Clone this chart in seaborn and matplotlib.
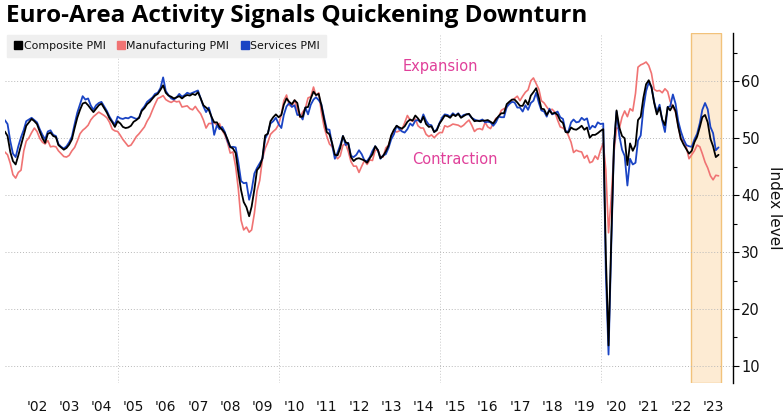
import matplotlib
matplotlib.use("Agg")
import matplotlib.pyplot as plt
from matplotlib.lines import Line2D
from matplotlib import font_manager
import seaborn as sns
import pandas as pd
import numpy as np

# ---------------- data (monthly, Jul 2001 - Sep 2023) ----------------
start_month = "2001-07-01"

composite = [
    51.2, 50.4, 47.6, 46.0, 45.4, 47.0,
    48.8, 50.6, 52.2, 52.8, 53.4, 53.0, 52.5, 51.2, 50.0, 49.2, 50.8, 51.0,
    50.4, 50.2, 48.8, 48.4, 48.0, 48.3, 48.9, 49.8, 51.8, 53.6, 55.0, 56.1,
    56.3, 55.8, 55.2, 54.6, 55.2, 55.8, 56.1, 55.3, 54.5, 53.5, 52.8, 52.0,
    53.0, 52.6, 52.0, 51.8, 51.9, 52.2, 52.9, 53.2, 53.6, 54.8, 55.3, 56.0,
    56.4, 57.0, 57.5, 57.8, 58.5, 59.3, 58.0, 57.5, 57.3, 57.0, 57.2, 57.4,
    57.0, 57.4, 57.6, 57.5, 57.8, 57.6, 58.1, 57.0, 55.8, 55.4, 55.0, 53.8,
    52.8, 52.8, 52.0, 51.5, 50.9, 49.8, 48.5, 48.2, 47.4, 44.0, 40.9, 38.8,
    37.9, 36.3, 38.0, 41.0, 44.4, 45.0, 46.5, 50.5, 50.8, 53.0, 53.7, 54.2,
    53.7, 54.1, 55.9, 57.0, 56.4, 56.0, 56.7, 56.2, 53.8, 53.8, 55.4, 55.5,
    57.0, 58.2, 57.6, 57.8, 55.8, 53.3, 51.1, 50.7, 49.1, 47.1, 47.0, 48.3,
    50.4, 49.3, 49.1, 46.7, 46.0, 46.4, 46.5, 46.3, 46.1, 45.7, 46.5, 47.2,
    48.6, 47.9, 46.5, 46.9, 47.7, 48.7, 50.5, 51.5, 52.2, 51.9, 51.7, 52.1,
    52.9, 53.3, 53.1, 54.0, 53.5, 52.8, 53.8, 52.5, 52.0, 52.1, 51.1, 51.4,
    52.6, 53.3, 54.0, 53.9, 53.6, 54.2, 53.9, 54.3, 53.6, 53.9, 54.2, 54.3,
    53.6, 53.0, 53.1, 53.0, 53.1, 53.1, 53.2, 52.9, 52.6, 53.3, 53.9, 54.4,
    54.4, 56.0, 56.4, 56.8, 56.8, 56.3, 55.7, 55.7, 56.7, 55.9, 57.5, 58.1,
    58.8, 57.1, 55.2, 55.1, 54.1, 54.9, 54.3, 54.5, 54.1, 53.1, 52.7, 51.1,
    51.0, 51.9, 51.6, 51.5, 51.8, 52.2, 51.5, 51.9, 50.1, 50.6, 50.6, 50.9,
    51.3, 51.6, 29.7, 13.6, 31.9, 48.5, 54.9, 51.9, 50.4, 50.0, 45.3, 49.1,
    47.8, 48.8, 53.2, 53.8, 57.1, 59.5, 60.2, 59.0, 56.2, 54.2, 55.4, 53.3,
    52.3, 55.5, 54.9, 55.8, 54.8, 52.0, 49.9, 48.9, 48.1, 47.3, 47.8, 49.3,
    50.3, 52.0, 53.7, 54.1, 52.8, 49.9, 48.6, 46.7, 47.1,
]

services = [
    53.2, 52.5, 49.5, 47.3, 46.7, 48.6,
    50.2, 51.5, 53.0, 53.3, 53.6, 53.2, 52.8, 51.6, 50.6, 49.8, 51.2, 51.4,
    50.6, 50.4, 49.0, 48.5, 48.2, 48.6, 49.3, 50.3, 52.5, 54.5, 56.0, 57.4,
    56.8, 57.0, 55.8, 55.0, 55.8, 56.2, 56.4, 55.6, 54.8, 53.8, 53.0, 52.4,
    53.8, 53.5, 53.4, 53.6, 53.5, 53.8, 53.6, 53.4, 53.6, 55.0, 55.6, 56.4,
    56.8, 57.2, 57.8, 58.0, 58.8, 60.7, 58.3, 57.6, 57.0, 56.8, 57.2, 57.8,
    57.3, 57.6, 58.0, 57.8, 58.0, 58.2, 58.4, 57.0, 55.6, 54.6, 55.4, 53.8,
    50.6, 52.3, 51.6, 52.0, 51.1, 49.5, 48.4, 48.5, 48.4, 45.8, 42.5, 42.1,
    42.2, 39.2, 40.9, 43.8, 44.8, 45.6, 46.4, 49.9, 50.9, 52.6, 53.0, 53.6,
    52.5, 51.8, 54.1, 55.6, 56.2, 55.5, 55.8, 54.1, 54.1, 53.3, 55.4, 54.2,
    55.9, 56.8, 57.2, 56.7, 56.0, 53.7, 51.6, 51.5, 48.8, 46.4, 47.5, 48.8,
    50.4, 48.8, 49.2, 46.9, 46.7, 47.1, 47.9, 47.2, 46.1, 46.0, 46.7, 47.8,
    48.6, 47.9, 46.4, 47.0, 47.2, 48.3, 49.8, 50.7, 52.2, 51.6, 51.2, 51.0,
    51.6, 52.6, 52.2, 53.1, 53.2, 52.8, 54.2, 53.1, 52.4, 52.3, 51.1, 51.6,
    52.7, 53.7, 54.2, 54.1, 53.8, 54.4, 54.0, 54.4, 53.7, 54.1, 54.2, 54.2,
    53.6, 53.3, 53.1, 53.1, 53.3, 52.8, 52.9, 52.8, 52.2, 52.8, 53.8, 53.7,
    53.7, 55.5, 56.0, 56.4, 56.3, 55.4, 55.4, 54.7, 55.8, 55.0, 56.2, 56.6,
    58.0, 56.2, 54.9, 54.7, 53.8, 55.2, 54.2, 54.4, 54.7, 53.7, 53.4, 51.2,
    51.2, 52.8, 53.3, 52.8, 52.9, 53.6, 53.2, 53.5, 51.6, 52.2, 51.9, 52.8,
    52.5, 52.6, 26.4, 12.0, 30.5, 48.3, 54.7, 50.5, 48.0, 46.9, 41.7, 46.4,
    45.4, 45.7, 49.6, 50.5, 55.2, 58.3, 59.8, 59.0, 56.4, 54.6, 55.9, 53.1,
    51.1, 55.5, 55.6, 57.7, 56.1, 53.0, 51.2, 49.8, 48.8, 48.6, 48.5, 49.8,
    50.8, 52.7, 55.0, 56.2, 55.1, 52.0, 50.9, 47.9, 48.4,
]

manufacturing = [
    47.6, 47.1, 45.6, 43.6, 43.0, 44.0,
    44.4, 47.8, 49.5, 50.1, 51.0, 51.8, 51.2, 50.0, 49.3, 49.0, 49.6, 48.5,
    48.6, 48.5, 47.8, 47.3, 46.8, 46.7, 47.0, 47.8, 48.4, 49.5, 50.8, 51.4,
    51.8, 52.3, 53.2, 53.8, 54.2, 54.6, 54.3, 54.0, 53.6, 52.8, 51.6, 51.3,
    51.2, 50.5, 49.8, 49.2, 48.6, 48.8, 49.5, 50.3, 50.8, 51.4, 52.0, 53.0,
    53.8, 55.0, 56.0, 57.0, 57.2, 57.5, 56.8, 56.5, 56.3, 56.6, 56.4, 56.5,
    55.5, 55.6, 55.7, 55.2, 55.0, 55.6, 54.9, 54.3, 53.2, 51.8, 52.6, 52.6,
    52.8, 52.3, 52.6, 51.4, 50.6, 49.2, 47.4, 47.6, 45.0, 41.1, 35.6, 33.9,
    34.4, 33.5, 33.9, 36.8, 40.7, 42.6, 46.3, 48.2, 49.3, 50.7, 51.2, 51.6,
    52.4, 54.2, 56.6, 57.6, 55.8, 55.6, 56.7, 55.1, 53.7, 54.6, 55.3, 57.1,
    57.3, 59.0, 57.5, 58.0, 54.6, 52.0, 50.4, 49.0, 48.5, 47.1, 46.4, 46.9,
    48.8, 49.0, 47.7, 45.9, 45.1, 45.1, 44.0, 45.1, 46.1, 45.4, 46.2, 46.1,
    47.9, 47.9, 46.8, 46.7, 48.3, 48.8, 50.3, 51.4, 51.1, 51.3, 51.6, 52.7,
    54.0, 53.2, 53.0, 53.4, 52.2, 51.8, 51.8, 50.7, 50.3, 50.6, 50.1, 50.6,
    51.0, 51.0, 52.2, 52.0, 52.2, 52.5, 52.4, 52.3, 52.0, 52.3, 52.8, 53.2,
    52.3, 51.2, 51.6, 51.7, 51.5, 52.8, 52.0, 51.7, 52.6, 53.5, 53.7, 54.9,
    55.2, 55.4, 56.2, 56.7, 57.0, 57.4, 56.6, 57.4, 58.1, 58.5, 60.1, 60.6,
    59.6, 58.6, 56.6, 56.2, 55.5, 54.9, 55.1, 54.6, 53.2, 52.0, 51.8, 51.4,
    50.5, 49.3, 47.5, 47.9, 47.7, 47.6, 46.5, 47.0, 45.7, 45.9, 46.9, 46.3,
    47.9, 49.2, 44.5, 33.4, 39.4, 47.4, 51.8, 51.7, 53.7, 54.8, 53.8, 55.2,
    54.8, 57.9, 62.5, 62.9, 63.1, 63.4, 62.8, 61.4, 58.6, 58.3, 58.4, 58.0,
    58.7, 58.2, 56.5, 55.5, 54.6, 52.1, 49.8, 49.6, 48.4, 46.4, 47.1, 47.8,
    48.8, 48.5, 47.3, 45.8, 44.8, 43.4, 42.7, 43.5, 43.4,
]

series_names = ["Composite PMI", "Manufacturing PMI", "Services PMI"]
series_colors = ["#000000", "#f07373", "#1a44c4"]
year_labels = ["'%02d" % y for y in range(2, 24)]
tick_years = list(range(2002, 2024))
grid_years = [2005, 2010, 2015, 2020]
y_ticks = [10, 20, 30, 40, 50, 60]
shade_start, shade_end = "2022-10-22", "2023-09-28"

# ---------------- build frame ----------------
dates = pd.date_range(start_month, periods=len(composite), freq="MS")
df = pd.concat([
    pd.DataFrame({"date": dates, "value": composite, "series": series_names[0]}),
    pd.DataFrame({"date": dates, "value": manufacturing, "series": series_names[1]}),
    pd.DataFrame({"date": dates, "value": services, "series": series_names[2]}),
], ignore_index=True)

sns.set_theme(style="white")
avail = {f.name for f in font_manager.fontManager.ttflist}
narrow = "Liberation Sans Narrow" if "Liberation Sans Narrow" in avail else "DejaVu Sans"
title_font = "Open Sans" if "Open Sans" in avail else "DejaVu Sans"
plt.rcParams["font.family"] = ["DejaVu Sans"]

fig = plt.figure(figsize=(7.84, 4.16), dpi=100)
ax = fig.add_axes([5 / 784, 1 - 383 / 416, (733 - 5) / 784, (383 - 33) / 416])

palette = dict(zip(series_names, series_colors))
# draw order: manufacturing, services, composite on top
for name, lw in [("Manufacturing PMI", 1.2), ("Services PMI", 1.3), ("Composite PMI", 1.3)]:
    sns.lineplot(data=df[df["series"] == name], x="date", y="value", color=palette[name],
                 linewidth=lw, ax=ax, legend=False)

ax.axvspan(pd.Timestamp(shade_start), pd.Timestamp(shade_end), facecolor="#fdebd3",
           edgecolor="#f2c27a", linewidth=1.0, zorder=0)

ax.set_xlim(pd.Timestamp("2001-07-03"), pd.Timestamp("2024-02-12"))
ax.set_ylim(7.0, 68.5)

# axes styling
for s in ["left", "top", "bottom"]:
    ax.spines[s].set_visible(False)
ax.spines["right"].set_visible(True)
ax.spines["right"].set_color("#000000")
ax.spines["right"].set_linewidth(1.0)
ax.yaxis.tick_right()
ax.set_yticks(y_ticks)
ax.set_yticks([15, 25, 35, 45, 55, 65], minor=True)
ax.tick_params(axis="y", which="major", direction="out", length=4, width=0.8, color="#000000",
               labelsize=10.5, pad=2, labelcolor="#111111")
ax.tick_params(axis="y", which="minor", direction="out", length=3, width=0.8, color="#000000")
ax.set_xticks([pd.Timestamp(f"{y}-07-01") for y in tick_years])
ax.set_xticklabels(year_labels, fontfamily=narrow, fontsize=10, color="#111111")
ax.set_xticks([pd.Timestamp(f"{y}-01-01") for y in grid_years], minor=True)
ax.tick_params(axis="x", which="both", length=0, pad=12)
ax.grid(False)
ax.yaxis.grid(True, which="major", linestyle=(0, (1, 2)), color="#b8b8b8", linewidth=0.7)
ax.xaxis.grid(True, which="minor", linestyle=(0, (1, 2)), color="#c8c8c8", linewidth=0.7)
ax.set_axisbelow(True)
ax.set_xlabel("")
ax.set_ylabel("")

ax.yaxis.set_label_position("right")
ax.set_ylabel("Index level", rotation=270, fontsize=11, labelpad=16, color="#111111")

# annotations
ax.text(pd.Timestamp("2015-01-15"), 62.6, "Expansion", color="#e0409a", fontsize=10.5,
        ha="center", va="center")
ax.text(pd.Timestamp("2015-06-20"), 46.3, "Contraction", color="#e0409a", fontsize=10.5,
        ha="center", va="center")

# legend
handles = [Line2D([], [], marker="s", linestyle="none", color=c, markersize=6)
           for c in series_colors]
leg = ax.legend(handles, series_names, loc="upper left", bbox_to_anchor=(0.0, 1.0),
                ncol=3, frameon=True, fancybox=False, fontsize=7.9, handletextpad=0.0,
                columnspacing=0.9, borderpad=0.55, borderaxespad=0.15, handlelength=1.0)
leg.get_frame().set_facecolor("#efefef")
leg.get_frame().set_edgecolor("#efefef")
leg.get_frame().set_alpha(1.0)
for t in leg.get_texts():
    t.set_color("#111111")

fig.text(6 / 784, 1 - 4 / 416, "Euro-Area Activity Signals Quickening Downturn",
         fontsize=17.5, fontweight="bold", fontfamily=title_font, ha="left", va="top",
         color="#000000")

fig.savefig("out.png", dpi=100, facecolor="white")
